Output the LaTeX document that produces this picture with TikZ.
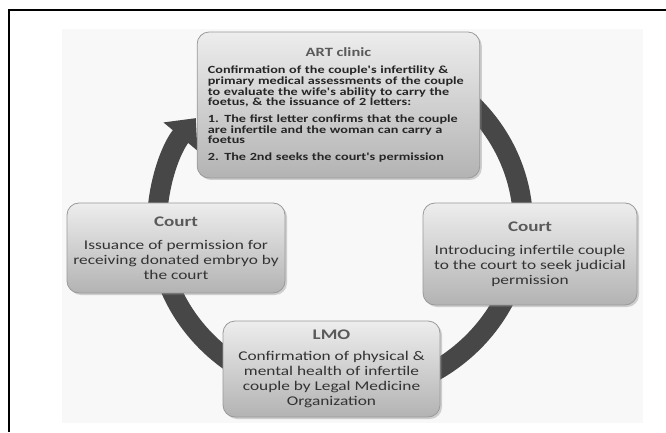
\documentclass[tikz,border=0pt]{standalone}
\usepackage{fontspec}
\usepackage{xcolor}
\usepackage{tikz}
\usetikzlibrary{arrows.meta,positioning,shadows}
\newfontfamily\boxfont{Carlito}[FakeStretch=1.3]
\definecolor{ringgray}{HTML}{474747}
\definecolor{boxtop}{HTML}{EDEDED}
\definecolor{boxbottom}{HTML}{B3B3B3}
\definecolor{boxline}{HTML}{9A9A9A}
\definecolor{titlegray}{HTML}{5A5A5A}
\definecolor{bodygray}{HTML}{333333}
\definecolor{pagegray}{HTML}{F8F8F8}
\newcommand{\stagetitle}[2][11]{{\color{titlegray}\bfseries\fontsize{#1}{#1}\selectfont #2}}
\tikzset{
	x=0.75pt, y=0.75pt,
	stage/.style={rounded corners=9pt, draw=boxline, line width=0.6pt,
		top color=boxtop, bottom color=boxbottom,
		drop shadow={shadow xshift=1.5pt, shadow yshift=-1.5pt, opacity=0.35},
		text=bodygray, align=center, inner sep=0pt,
		font=\boxfont\fontsize{10}{11.25}\selectfont},
	artstage/.style={stage, minimum width=212pt, minimum height=109.5pt,
		text width=196pt, align=left, text=black!85,
		font=\boxfont\bfseries\fontsize{8.2}{8}\selectfont},
	ring/.style={line width=15pt, draw=ringgray, -{Triangle[width=32pt,length=18pt]}},
}

\begin{document}
\begin{tikzpicture}
	\useasboundingbox (0,0) rectangle (666,432);
	\fill[pagegray] (62,9) rectangle (643,403);
	\draw[line width=0.9pt] (9,0) -- (9,422) -- (666,422);

	% the cycle
	\coordinate (hub) at (340,208);
	\draw[ring] ([shift={(60:183 and 172)}]hub)
		arc[start angle=60, end angle=-218, x radius=183, y radius=172];

	\node[artstage] (art) at (338.5,327) {%
		{\centering\stagetitle[9.5]{ART clinic}\par}\vspace{5pt}
		Confirmation of the couple's infertility \&\\
		primary medical assessments of the couple\\
		to evaluate the wife's ability to carry the\\
		foetus, \& the issuance of 2 letters:\par\vspace{4.5pt}
		1. The first letter confirms that the couple\\
		are infertile and the woman can carry a\\
		foetus\par\vspace{4.5pt}
		2. The 2nd seeks the court's permission};
	\node[stage, minimum width=160.5pt, minimum height=76.5pt] (court1) at (530,178)
		{\stagetitle{Court}\\[6pt]
		Introducing infertile couple\\ to the court to seek judicial\\ permission};
	\node[stage, minimum width=162.75pt, minimum height=72pt] (lmo) at (331.5,63)
		{\stagetitle{LMO}\\[4pt]
		Confirmation of physical \&\\ mental health of infertile\\ couple by Legal Medicine\\ Organization};
	\node[stage, minimum width=163.5pt, minimum height=67.5pt] (court2) at (176,184)
		{\stagetitle{Court}\\[6pt]
		Issuance of permission for\\ receiving donated embryo by\\ the court};
\end{tikzpicture}
\end{document}
